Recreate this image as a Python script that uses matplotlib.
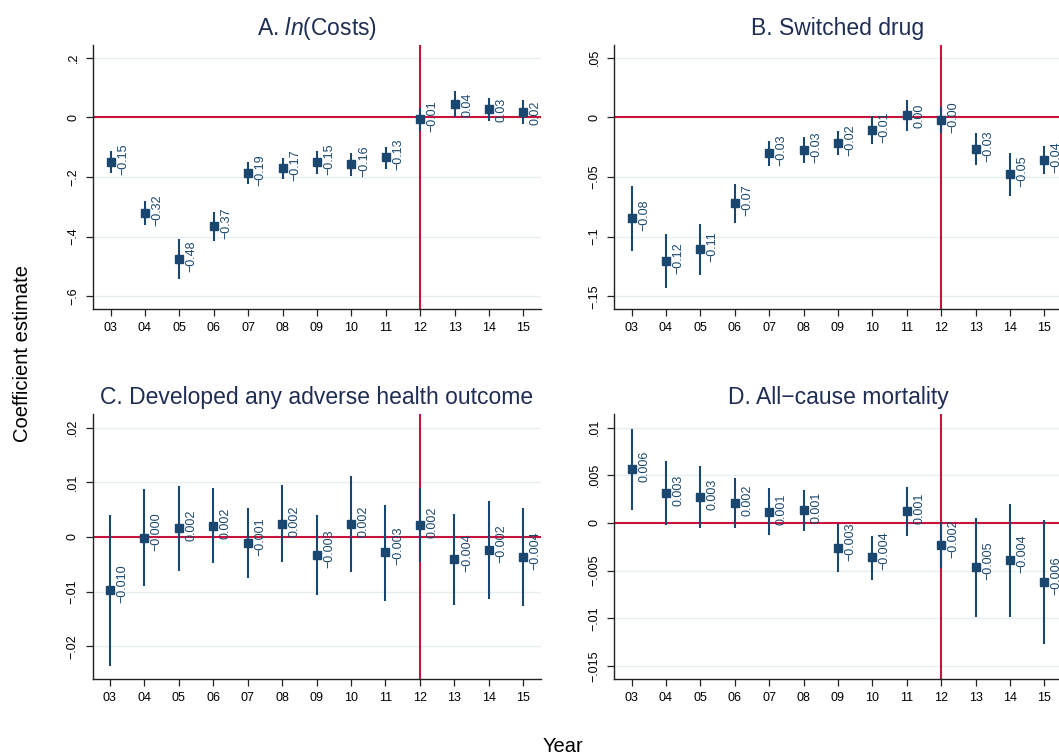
import matplotlib
matplotlib.use("Agg")
import matplotlib.pyplot as plt

plt.rcParams["font.family"] = ["Liberation Sans", "DejaVu Sans"]
plt.rcParams["mathtext.fontset"] = "custom"
plt.rcParams["mathtext.rm"] = "Liberation Sans"
plt.rcParams["mathtext.it"] = "Liberation Sans:italic"

# event-study estimates by year, with 95% CI bounds
years = list(range(3, 16))
year_labels = ["03", "04", "05", "06", "07", "08", "09", "10", "11", "12", "13", "14", "15"]

costs_coef = [-0.151, -0.322, -0.476, -0.366, -0.187, -0.170, -0.151, -0.156, -0.134, -0.006, 0.044, 0.028, 0.017]
costs_lo = [-0.188, -0.361, -0.543, -0.416, -0.223, -0.207, -0.190, -0.197, -0.172, -0.046, 0.000, -0.011, -0.023]
costs_hi = [-0.113, -0.280, -0.409, -0.317, -0.151, -0.137, -0.112, -0.120, -0.099, 0.030, 0.089, 0.064, 0.059]

switch_coef = [-0.0846, -0.1207, -0.1106, -0.0721, -0.0302, -0.0277, -0.0218, -0.0106, 0.0017, -0.0025, -0.0265, -0.0478, -0.0360]
switch_lo = [-0.1120, -0.1427, -0.1324, -0.0883, -0.0405, -0.0385, -0.0318, -0.0226, -0.0117, -0.0128, -0.0399, -0.0656, -0.0478]
switch_hi = [-0.0573, -0.0978, -0.0897, -0.0559, -0.0201, -0.0168, -0.0112, 0.0008, 0.0148, 0.0084, -0.0131, -0.0302, -0.0240]

adverse_coef = [-0.00976, -0.0001, 0.00159, 0.00195, -0.00116, 0.0024, -0.00335, 0.0024, -0.0028, 0.00213, -0.0041, -0.00244, -0.0036]
adverse_lo = [-0.0236, -0.0089, -0.00622, -0.00482, -0.00756, -0.00457, -0.0106, -0.00634, -0.01165, -0.00463, -0.01238, -0.01134, -0.01256]
adverse_hi = [0.00402, 0.00878, 0.00927, 0.0089, 0.00537, 0.00951, 0.00396, 0.01116, 0.0058, 0.0089, 0.00415, 0.00665, 0.00537]

mort_coef = [0.00563, 0.00311, 0.00269, 0.00206, 0.00119, 0.00133, -0.00266, -0.0036, 0.00122, -0.00234, -0.00465, -0.00392, -0.00622]
mort_lo = [0.00136, -0.00017, -0.00056, -0.00052, -0.00122, -0.0008, -0.00517, -0.00594, -0.0014, -0.00469, -0.00983, -0.00983, -0.0127]
mort_hi = [0.00986, 0.0065, 0.00601, 0.00472, 0.00367, 0.00343, -0.00007, -0.00136, 0.00381, 0.00007, 0.00056, 0.00199, 0.00031]

costs_ticks = [0.2, 0, -0.2, -0.4, -0.6]
costs_ticklabels = [".2", "0", "\u2212.2", "\u2212.4", "\u2212.6"]
switch_ticks = [0.05, 0, -0.05, -0.1, -0.15]
switch_ticklabels = [".05", "0", "\u2212.05", "\u2212.1", "\u2212.15"]
adverse_ticks = [0.02, 0.01, 0, -0.01, -0.02]
adverse_ticklabels = [".02", ".01", "0", "\u2212.01", "\u2212.02"]
mort_ticks = [0.01, 0.005, 0, -0.005, -0.01, -0.015]
mort_ticklabels = [".01", ".005", "0", "\u2212.005", "\u2212.01", "\u2212.015"]

NAVY = "#1a476f"
RED = "#c8143c"
GRID = "#e6eef1"
TITLE = "#1f2d55"

W, H = 1059, 755
fig = plt.figure(figsize=(W / 100, H / 100), dpi=100)


def px_box(left, top, right, bottom):
    return [left / W, 1 - bottom / H, (right - left) / W, (bottom - top) / H]


panels = [
    (px_box(93.3, 45, 540.7, 309.3), r"A. $\mathit{ln}$(Costs)", costs_coef, costs_lo, costs_hi,
     costs_ticks, costs_ticklabels, (-0.6436, 0.2424), 2),
    (px_box(614.3, 45, 1061.5, 309.3), "B. Switched drug", switch_coef, switch_lo, switch_hi,
     switch_ticks, switch_ticklabels, (-0.1609, 0.0606), 2),
    (px_box(92.7, 414.3, 540.5, 679.3), "C. Developed any adverse health outcome", adverse_coef, adverse_lo,
     adverse_hi, adverse_ticks, adverse_ticklabels, (-0.02604, 0.02244), 3),
    (px_box(614.3, 414.3, 1061.5, 679.3), "D. All\u2212cause mortality", mort_coef, mort_lo, mort_hi,
     mort_ticks, mort_ticklabels, (-0.0164, 0.0114), 3),
]

for box, title, coef, lo, hi, yt, ytl, ylim, dec in panels:
    ax = fig.add_axes(box)
    ax.set_xlim(2.5, 15.5)
    ax.set_ylim(*ylim)

    for v in yt:
        ax.axhline(v, color=GRID, lw=1.0, zorder=0)
    ax.axhline(0, color=RED, lw=1.5, zorder=1)
    ax.axvline(12, color=RED, lw=1.5, zorder=1)

    ax.vlines(years, lo, hi, color=NAVY, lw=1.5, zorder=2)
    ax.plot(years, coef, ls="none", marker="s", ms=5.2, color=NAVY, zorder=3)

    # value labels run upward, starting just below-right of each marker
    for x, v in zip(years, coef):
        txt = f"{v:.{dec}f}".replace("-", "\u2212")
        ax.annotate(txt, (x, v), xytext=(12.5, -13), textcoords="offset pixels",
                    rotation=90, rotation_mode="anchor", ha="left", va="center",
                    fontsize=9, color=NAVY, annotation_clip=False)

    ax.set_xticks(years)
    ax.set_xticklabels(year_labels)
    ax.set_yticks(yt)
    ax.set_yticklabels(ytl, rotation=90, va="center")
    ax.tick_params(axis="both", length=5, width=0.9, labelsize=9, pad=4, color="#222222")
    ax.tick_params(axis="y", pad=5)

    for side in ("top", "right"):
        ax.spines[side].set_visible(False)
    for side in ("left", "bottom"):
        ax.spines[side].set_linewidth(1.0)
        ax.spines[side].set_color("#222222")

    ax.set_title(title, fontsize=16.5, color=TITLE, pad=7.5)

fig.text(23 / W, 1 - 354 / H, "Coefficient estimate", rotation=90, ha="center", va="center", fontsize=14.5)
fig.text(563 / W, 1 - 746 / H, "Year", ha="center", va="center", fontsize=14.5)

fig.savefig("out.png", dpi=100, facecolor="white")
